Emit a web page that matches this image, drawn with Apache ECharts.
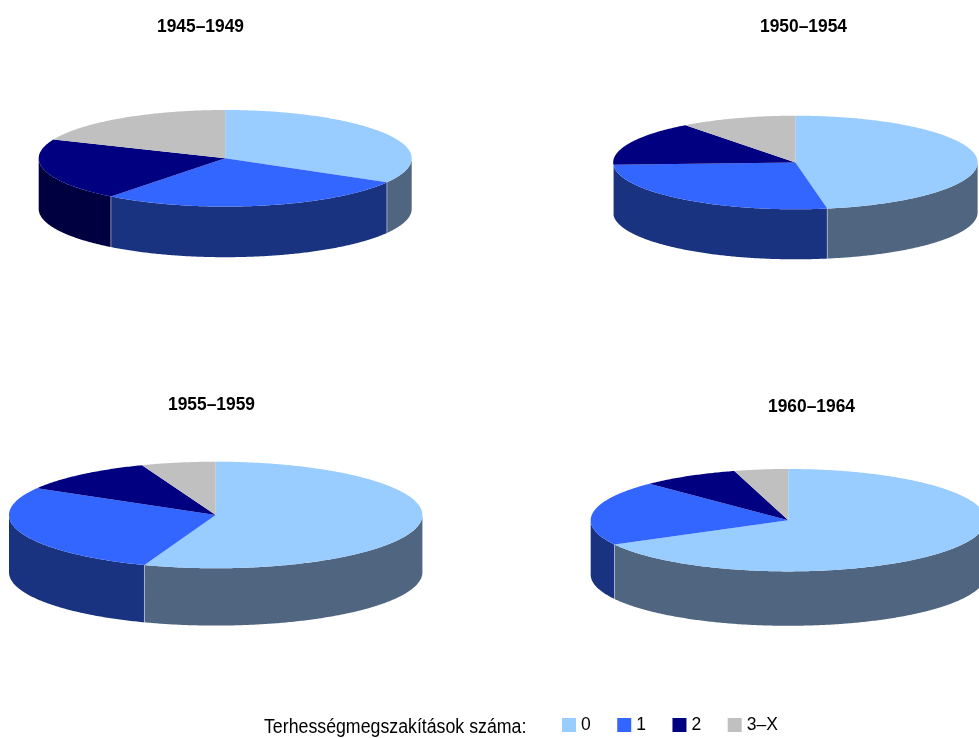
<!DOCTYPE html>
<html>
<head>
<meta charset="utf-8">
<style>html,body{margin:0;padding:0;background:#fff}#c{width:979px;height:738px}</style>
<script src="https://cdn.jsdelivr.net/npm/echarts@6/dist/echarts.min.js"></script>
</head>
<body>
<div id="c"></div>
<script>
var periods = ['1945–1949', '1950–1954', '1955–1959', '1960–1964'];
var categories = ['0', '1', '2', '3–X'];
var shares0 = [33.3, 47.2, 55.6, 67.1];
var shares1 = [27.2, 27.0, 27.8, 20.5];
var shares2 = [20.9, 15.5, 10.8, 8.0];
var shares3 = [18.6, 10.3, 5.8, 4.4];
var topColors = ['#99CCFF', '#3366FF', '#000080', '#C0C0C0'];
var wallColors = ['#4F6580', '#1A3380', '#000040', '#606060'];
var legendTitle = 'Terhességmegszakítások száma:';

var shareLists = [shares0, shares1, shares2, shares3];
var pieLayouts = [
  {cx: 225.2, cy: 158.3, rx: 186.5, ry: 48.3, depth: 50.6},
  {cx: 795.4, cy: 162.5, rx: 182.2, ry: 46.8, depth: 50},
  {cx: 215.7, cy: 515, rx: 206.7, ry: 53.3, depth: 57.3},
  {cx: 788.3, cy: 520.2, rx: 197.6, ry: 51.2, depth: 54.4}
];
var titlePositions = [[200.5, 27], [803.5, 27], [211.5, 405], [811.5, 407]];

function ring(l, a, extra) {
  return [l.cx + l.rx * Math.sin(a), l.cy - l.ry * Math.cos(a) + (extra || 0)];
}
function arc(l, a0, a1, extra) {
  var pts = [], n = Math.max(2, Math.ceil((a1 - a0) / 0.01));
  for (var i = 0; i <= n; i++) pts.push(ring(l, a0 + (a1 - a0) * i / n, extra));
  return pts;
}
function renderSlice(params, api) {
  var l = pieLayouts[api.value(0)];
  var a0 = api.value(1) / api.value(3) * 2 * Math.PI;
  var a1 = api.value(2) / api.value(3) * 2 * Math.PI;
  var k = params.seriesIndex;
  var children = [];
  var w0 = Math.max(a0, Math.PI / 2), w1 = Math.min(a1, Math.PI * 1.5);
  if (w1 > w0) {
    var upper = arc(l, w0, w1, 0), lower = arc(l, w0, w1, l.depth).reverse();
    children.push({type: 'polygon', shape: {points: upper.concat(lower)},
      style: {fill: wallColors[k], stroke: null}});
    if (a0 > Math.PI / 2 && a0 < Math.PI * 1.5) {
      var p = ring(l, a0, 0);
      children.push({type: 'line', z2: 3,
        shape: {x1: p[0], y1: p[1], x2: p[0], y2: p[1] + l.depth},
        style: {stroke: 'rgba(255,255,255,0.45)', lineWidth: 1}});
    }
  }
  children.push({type: 'polygon', z2: 2,
    shape: {points: [[l.cx, l.cy]].concat(arc(l, a0, a1, 0))},
    style: {fill: topColors[k], stroke: null}});
  return {type: 'group', children: children};
}

var series = categories.map(function (name, k) {
  var rows = periods.map(function (_, p) {
    var before = 0, total = 0;
    shareLists.forEach(function (list, j) {
      total += list[p];
      if (j < k) before += list[p];
    });
    return [p, before, before + shareLists[k][p], total];
  });
  return {type: 'custom', name: name, coordinateSystem: 'none', silent: true,
    itemStyle: {color: topColors[k]}, renderItem: renderSlice, data: rows,
    encode: {x: [], y: []}};
});

var texts = periods.map(function (t, i) {
  return {type: 'text', x: titlePositions[i][0], y: titlePositions[i][1], scaleX: 0.94, silent: true,
    style: {text: t, fontFamily: 'Liberation Sans', fontSize: 18.5, fontWeight: 'bold', fill: '#000',
      textAlign: 'center', textVerticalAlign: 'middle'}};
});
texts.push({type: 'text', x: 264, y: 728, scaleX: 0.91, silent: true,
  style: {text: legendTitle, fontFamily: 'Liberation Sans', fontSize: 19.5, fontWeight: 'normal', fill: '#000',
    textAlign: 'left', textVerticalAlign: 'middle'}});

var chart = echarts.init(document.getElementById('c'), null, {renderer: 'canvas'});
chart.setOption({
  animation: false,
  backgroundColor: '#fff',
  graphic: texts,
  legend: {left: 562, top: 716, padding: 0, icon: 'rect', itemWidth: 14, itemHeight: 14, itemGap: 26.5,
    selectedMode: false, data: categories,
    textStyle: {fontFamily: 'Liberation Sans', fontSize: 17.5, color: '#000'}},
  series: series
});
</script>
</body>
</html>
